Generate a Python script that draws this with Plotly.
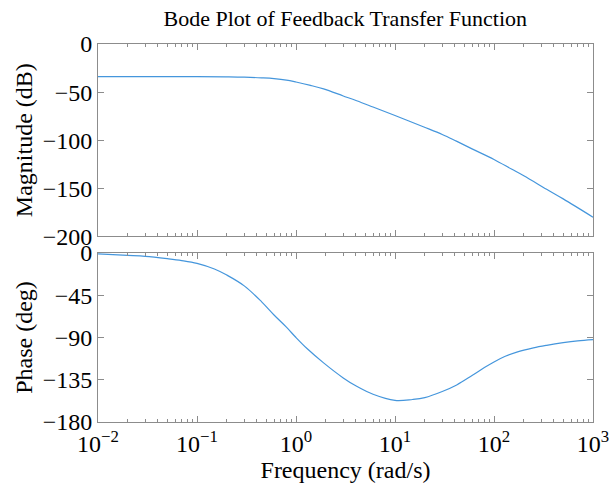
import plotly.graph_objects as go
from plotly.subplots import make_subplots

# Magnitude data (rad/s, dB)
mag_freq = [0.01, 0.1, 0.2, 0.3, 0.45, 0.6, 0.8, 1.0, 1.4, 1.9, 3, 4.1, 6, 10, 19.3, 30, 41.7, 60, 100, 150, 200, 340, 500, 1000]
mag_db = [-34, -34, -34.2, -34.5, -35.2, -36, -37.5, -39.5, -43, -46.7, -54, -59, -65.5, -74.3, -86, -94, -101, -109, -120, -130, -137, -151, -161, -180]

# Phase data (rad/s, deg)
ph_freq = [0.01, 0.02, 0.03, 0.05, 0.07, 0.1, 0.15, 0.2, 0.3, 0.45, 0.6, 0.8, 1.0, 1.3, 1.9, 3, 4.1, 6, 10, 15, 20, 30, 42, 60, 80, 100, 130, 170, 250, 340, 500, 700, 1000]
ph_deg = [-1, -2.5, -3.5, -6, -8, -11, -17, -23.5, -35, -52, -66, -79, -90, -102, -117, -133, -142, -150.5, -157, -156, -154, -147.5, -140.5, -130.5, -122, -116, -110, -105.5, -101, -98.3, -95.5, -93.6, -92.3]

x_tickvals = [0.01, 0.1, 1, 10, 100, 1000]
x_ticktext = ["10<sup>−2</sup>", "10<sup>−1</sup>", "10<sup>0</sup>", "10<sup>1</sup>", "10<sup>2</sup>", "10<sup>3</sup>"]
mag_ticks = [0, -50, -100, -150, -200]
ph_ticks = [0, -45, -90, -135, -180]

minor_vals = [m * 10 ** k for k in range(-2, 3) for m in range(2, 10)]

FONT = "Liberation Serif"
AXC = "#8c8c8c"
LINEC = "#4596dc"

fig = make_subplots(rows=2, cols=1, shared_xaxes=False, vertical_spacing=0.0)

fig.add_trace(go.Scatter(x=mag_freq, y=mag_db, mode="lines",
                         line=dict(color=LINEC, width=1.2, shape="spline", smoothing=1.0), showlegend=False), row=1, col=1)
fig.add_trace(go.Scatter(x=ph_freq, y=ph_deg, mode="lines",
                         line=dict(color=LINEC, width=1.2, shape="spline", smoothing=1.0), showlegend=False), row=2, col=1)

xcommon = dict(type="log", range=[-2, 3], tickmode="array", tickvals=x_tickvals, automargin=False,
               ticks="inside", ticklen=6, tickcolor=AXC, showline=True, linecolor=AXC, linewidth=1,
               mirror="ticks", showgrid=False, zeroline=False, ticklabeloverflow="allow",
               minor=dict(tickmode="array", tickvals=minor_vals, ticks="inside", ticklen=3, tickcolor=AXC, showgrid=False),
               tickfont=dict(family=FONT, size=24, color="#000"))

fig.update_xaxes(**xcommon, row=1, col=1)
fig.update_xaxes(**xcommon, row=2, col=1)
fig.update_xaxes(showticklabels=False, domain=[0, 1], row=1, col=1)
fig.update_xaxes(ticktext=x_ticktext, row=2, col=1,
                 title=dict(text="Frequency (rad/s)", font=dict(family=FONT, size=24, color="#000"), standoff=0))

ycommon = dict(ticks="inside", ticklen=6, tickcolor=AXC, showline=True, linecolor=AXC, linewidth=1,
               mirror="ticks", showgrid=False, zeroline=False, automargin=False, ticklabeloverflow="allow",
               tickfont=dict(family=FONT, size=24, color="#000"))
fig.update_yaxes(**ycommon, range=[-200, 0], tickmode="array", tickvals=mag_ticks, domain=[0.491, 1.0],
                 title=dict(text="Magnitude (dB)", font=dict(family=FONT, size=24, color="#000"), standoff=3),
                 row=1, col=1)
fig.update_yaxes(**ycommon, range=[-180, 0], tickmode="array", tickvals=ph_ticks, domain=[0.0, 0.447],
                 title=dict(text="Phase (deg)", font=dict(family=FONT, size=24, color="#000"), standoff=3),
                 row=2, col=1)

fig.update_layout(
    width=609, height=491,
    margin=dict(l=98, r=16, t=44, b=69),
    paper_bgcolor="white", plot_bgcolor="white",
    title=dict(text="Bode Plot of Feedback Transfer Function", x=0.567, xanchor="center", y=0.963, yanchor="middle",
               font=dict(family=FONT, size=22, color="#000")),
)

fig.write_html("out.html", config={"displayModeBar": False},
               post_script="document.body.style.margin='0px';")
